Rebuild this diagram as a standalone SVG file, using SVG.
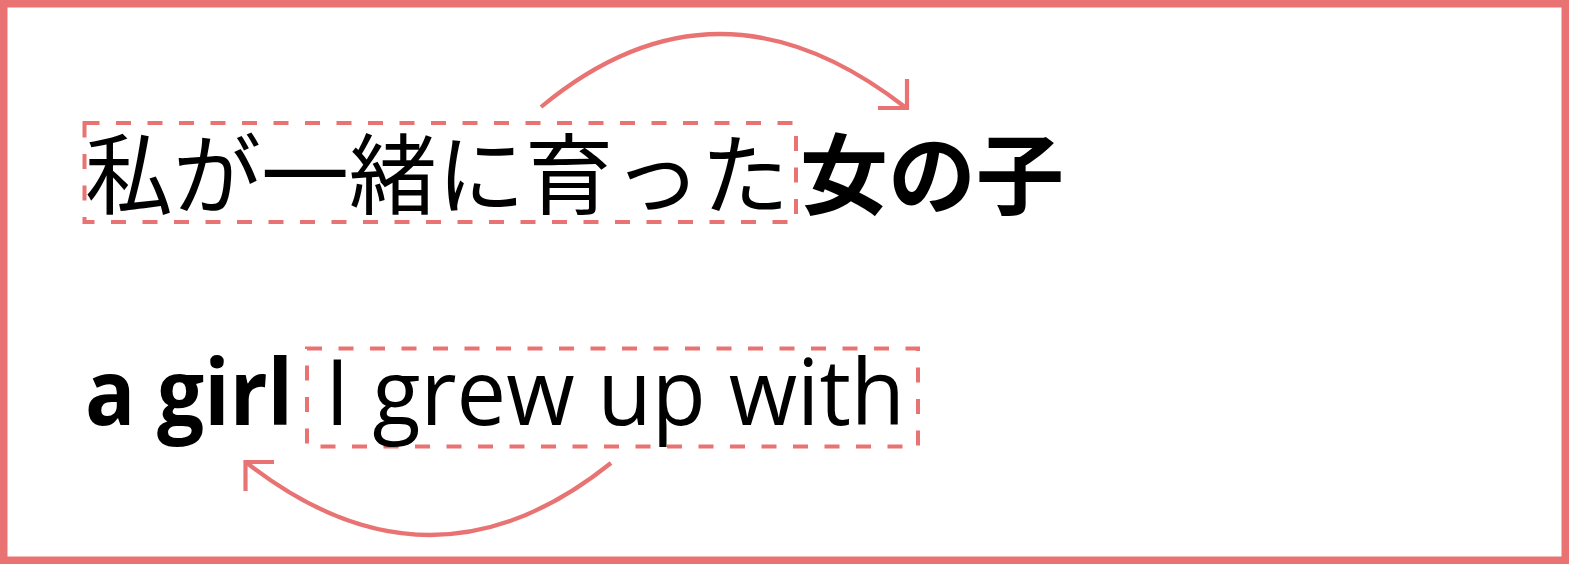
<svg xmlns="http://www.w3.org/2000/svg" width="1569" height="564" viewBox="0 0 1569 564">
  <style>
    .frame { fill: #ffffff; stroke: #E97373; stroke-width: 15; }
    .dash { fill: none; stroke: #E97373; stroke-width: 4; stroke-dasharray: 15 16.5; }
    .conn { fill: none; stroke: #E97373; stroke-width: 4.2; stroke-linecap: butt; stroke-linejoin: miter; }
    .jp { font-family: "Noto Sans CJK JP", "Noto Sans", sans-serif; font-size: 88px; fill: #000000; }
    .en { font-family: "Open Sans", "Noto Sans", sans-serif; font-size: 91px; fill: #000000; }
    .b { font-weight: bold; }
  </style>
  <rect class="frame" x="0" y="0" width="1569" height="564"/>

  <g id="node-japanese">
    <rect class="dash" x="84.5" y="123" width="711.5" height="99"/>
    <text class="jp" x="85" y="207">私が一緒に育った</text>
    <text class="jp b" x="800" y="207">女の子</text>
  </g>

  <g id="node-english">
    <text class="en b" x="85" y="425" textLength="208" lengthAdjust="spacingAndGlyphs">a girl</text>
    <rect class="dash" x="307" y="348.5" width="611" height="98"/>
    <text class="en" x="325" y="425" textLength="580" lengthAdjust="spacingAndGlyphs">I grew up with</text>
  </g>

  <g id="connectors">
    <path class="conn" d="M541,107 Q717,-39 905,107"/>
    <polyline class="conn" points="907,79 907,108 878,108"/>
    <path class="conn" d="M611,463 Q431.5,607 247,463"/>
    <polyline class="conn" points="274,462 245.5,462 245.5,491"/>
  </g>
</svg>
